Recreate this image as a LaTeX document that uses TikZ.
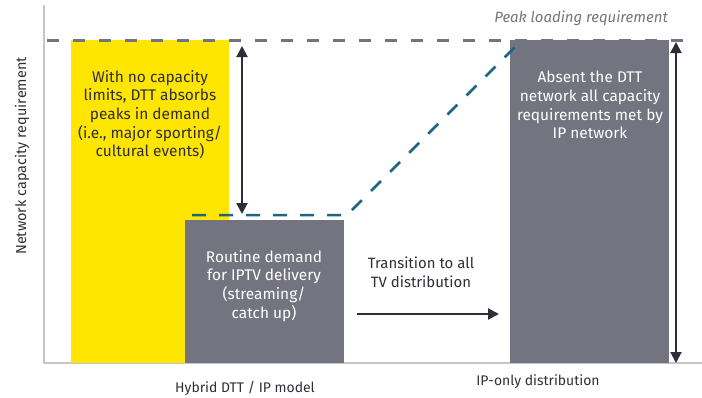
\documentclass[tikz,border=0pt]{standalone}
\usepackage{fontspec}
\setmainfont{Fira Sans}
\usetikzlibrary{arrows.meta}
\definecolor{eyyellow}{HTML}{FFE600}
\definecolor{eygray}{HTML}{747480}
\definecolor{eydark}{HTML}{2E2E38}
\definecolor{eyteal}{HTML}{1B6680}
\definecolor{axisgray}{HTML}{C4C4CD}
\tikzset{
  bar/.style={rectangle, inner sep=0pt, outer sep=0pt, anchor=north west},
  boxtext/.style={inner sep=0pt, anchor=north, align=center,
    font=\fontsize{15.5}{18.7}\selectfont},
  axislabel/.style={inner sep=0pt, text=eydark, font=\fontsize{14}{16}\selectfont},
  axisline/.style={draw=axisgray, line width=1.5bp},
  peakline/.style={draw=eygray, line width=3bp, dash pattern=on 12bp off 14bp},
  trendline/.style={draw=eyteal, line width=2.5bp, dash pattern=on 14bp off 13bp},
  arr/.style={draw=eydark, line width=2bp},
  tip/.tip={Triangle[width=11bp,length=11bp]},
}
\begin{document}
\begin{tikzpicture}[x=1bp,y=-1bp]
\useasboundingbox (0,0) rectangle (702,397);

% axes
\coordinate (ytop) at (44,5);
\coordinate (orig) at (44,363);
\coordinate (xend) at (702,363);
\draw[axisline] (ytop) -- (orig) -- (xend);

% bars
\node[bar, fill=eyyellow, minimum width=158bp, minimum height=323bp] (dtt) at (71,40) {};
\node[bar, fill=eygray, minimum width=159bp, minimum height=143bp] (iptv) at (185,220) {};
\node[bar, fill=eygray, minimum width=159bp, minimum height=323bp] (iponly) at (510,40) {};

% texts inside bars
\node[boxtext, text=eydark] (dtttxt) at (150,70)
  {With no capacity\\limits, DTT absorbs\\peaks in demand\\(i.e., major sporting/\\cultural events)};
\node[boxtext, text=white] (iptvtxt) at (264,250)
  {Routine demand\\for IPTV delivery\\(streaming/\\catch up)};
\node[boxtext, text=white] (iponlytxt) at (590,71)
  {Absent the DTT\\network all capacity\\requirements met by\\IP network};
\node[boxtext, text=eydark, font=\fontsize{15}{18.7}\selectfont] (transtxt) at (421,257)
  {Transition to all\\TV distribution};

% peak loading line
\coordinate (peakL) at (47,40);
\coordinate (peakR) at (685,40);
\draw[peakline] (peakL) -- (peakR);
\node[inner sep=0pt, anchor=north east, text=eygray,
  font=\fontsize{15}{17}\selectfont\itshape] (peaktxt) at (668,11) {Peak loading requirement};

% demand trend line
\coordinate (trA) at (192,215);
\coordinate (trB) at (347,215);
\coordinate (trC) at (519,43);
\draw[trendline] (trA) -- (trB) -- (trC);

% arrows
\coordinate (a1t) at (242,46);
\coordinate (a1b) at (242,214);
\draw[arr, {tip}-{tip}] (a1t) -- (a1b);
\coordinate (a2t) at (676,42);
\coordinate (a2b) at (676,363);
\draw[arr, {tip}-{tip}] (a2t) -- (a2b);
\coordinate (trs) at (357,314);
\coordinate (tre) at (499,314);
\draw[arr, -{tip}] (trs) -- (tre);

% axis labels
\node[axislabel, rotate=90, font=\fontsize{14.5}{16}\selectfont] (ylab) at (22,156) {Network capacity requirement};
\node[axislabel, anchor=north] (xlab1) at (245,381) {Hybrid DTT / IP model};
\node[axislabel, anchor=north] (xlab2) at (538,374) {IP-only distribution};
\end{tikzpicture}
\end{document}
